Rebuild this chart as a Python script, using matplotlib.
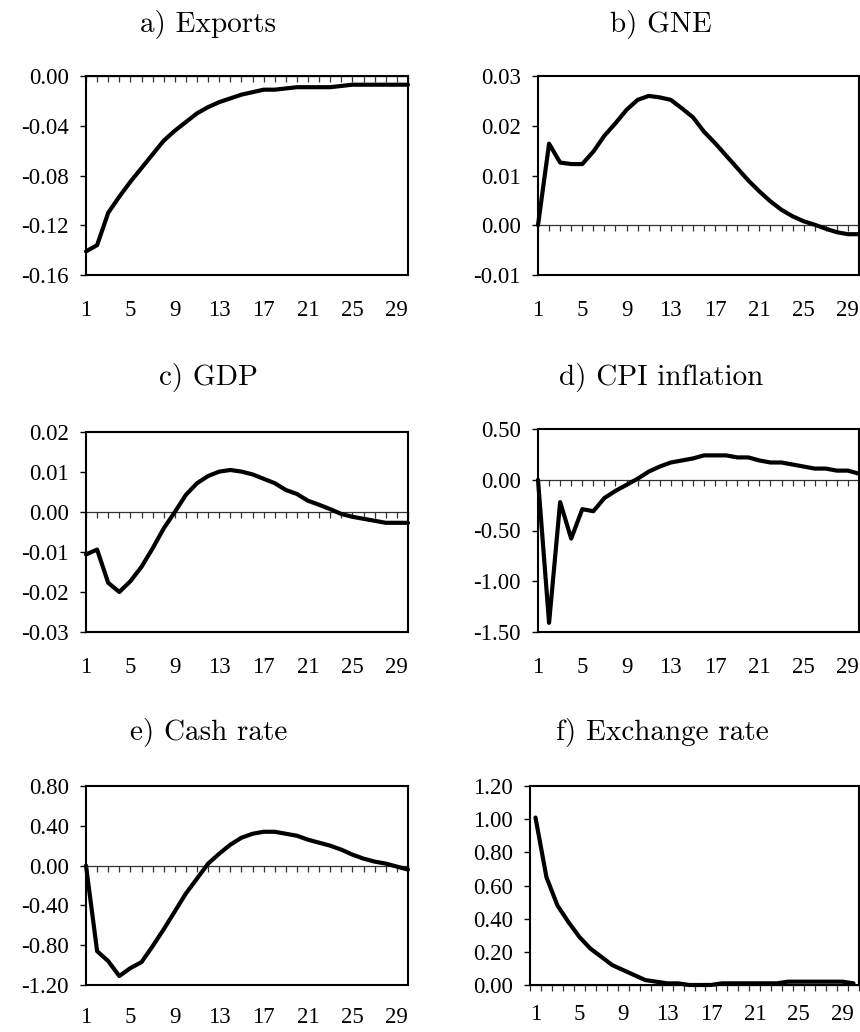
import matplotlib

matplotlib.use("Agg")
import matplotlib.pyplot as plt
from matplotlib.ticker import FormatStrFormatter

# impulse responses, periods 1..30
periods = list(range(1, 31))
xtick_labels = [1, 5, 9, 13, 17, 21, 25, 29]

exports = [-0.141, -0.136, -0.110, -0.097, -0.085, -0.074, -0.063, -0.052, -0.044, -0.037,
           -0.030, -0.025, -0.021, -0.018, -0.015, -0.013, -0.011, -0.011, -0.010, -0.009,
           -0.009, -0.009, -0.009, -0.008, -0.007, -0.007, -0.007, -0.007, -0.007, -0.007]
gne = [0.0000, 0.0164, 0.0126, 0.0123, 0.0123, 0.0148, 0.0180, 0.0205, 0.0232, 0.0252,
       0.0260, 0.0257, 0.0252, 0.0235, 0.0217, 0.0188, 0.0165, 0.0140, 0.0115, 0.0090,
       0.0068, 0.0048, 0.0031, 0.0018, 0.0008, 0.0001, -0.0007, -0.0014, -0.0018, -0.0018]
gdp = [-0.0106, -0.0094, -0.0177, -0.0200, -0.0173, -0.0137, -0.0091, -0.0041, 0.0000, 0.0043,
       0.0072, 0.0090, 0.0101, 0.0105, 0.0101, 0.0094, 0.0083, 0.0072, 0.0055, 0.0045,
       0.0028, 0.0018, 0.0007, -0.0005, -0.0012, -0.0017, -0.0022, -0.0027, -0.0027, -0.0027]
cpi = [0.00, -1.41, -0.22, -0.58, -0.29, -0.31, -0.18, -0.11, -0.05, 0.01,
       0.08, 0.13, 0.17, 0.19, 0.21, 0.24, 0.24, 0.24, 0.22, 0.22,
       0.19, 0.17, 0.17, 0.15, 0.13, 0.11, 0.11, 0.09, 0.09, 0.06]
cash = [0.00, -0.86, -0.96, -1.11, -1.03, -0.97, -0.81, -0.64, -0.46, -0.28,
        -0.13, 0.02, 0.12, 0.21, 0.28, 0.32, 0.34, 0.34, 0.32, 0.30,
        0.26, 0.23, 0.20, 0.16, 0.11, 0.07, 0.04, 0.02, -0.01, -0.04]
fx = [1.01, 0.65, 0.48, 0.38, 0.29, 0.22, 0.17, 0.12, 0.09, 0.06,
      0.03, 0.02, 0.01, 0.01, 0.00, 0.00, 0.00, 0.01, 0.01, 0.01,
      0.01, 0.01, 0.01, 0.02, 0.02, 0.02, 0.02, 0.02, 0.02, 0.01]

plt.rcParams["font.family"] = "Liberation Serif"
plt.rcParams["axes.unicode_minus"] = False

W, H = 860, 1032
TICK_FS = 16.5
TITLE_FS = 21


def add_panel(fig, box, title, title_pos, values, yticks, between=False, xpad=18):
    left, top, right, bottom = box
    ax = fig.add_axes([left / W, 1 - bottom / H, (right - left) / W, (bottom - top) / H])
    ax.plot(periods, values, color="black", lw=3.0, solid_joinstyle="round",
            solid_capstyle="round", zorder=3, clip_on=False)

    ymin, ymax = yticks[0], yticks[-1]
    ax.set_ylim(ymin, ymax)
    ax.set_yticks(yticks)
    ax.yaxis.set_major_formatter(FormatStrFormatter("%.2f"))
    if between:
        ax.set_xlim(0.5, 30.5)
        cat_ticks = [p - 0.5 for p in periods] + [30.5]
    else:
        ax.set_xlim(1, 30)
        cat_ticks = periods
    ax.set_xticks(xtick_labels)
    ax.tick_params(axis="x", length=0, pad=xpad, labelsize=TICK_FS)
    ax.tick_params(axis="y", direction="out", length=4.3, width=1.0, pad=8,
                   labelsize=TICK_FS)
    for sp in ax.spines.values():
        sp.set_linewidth(1.5)
        sp.set_color("black")

    # category axis crossing at zero, ticks hanging below it
    loc = (0 - ymin) / (ymax - ymin)
    sec = ax.secondary_xaxis(loc)
    sec.set_alignment("bottom")
    sec.set_xticks(cat_ticks)
    sec.tick_params(axis="x", direction="out", length=4.5, width=0.9, color="#333333",
                    labelbottom=False, labeltop=False)
    sec.spines["bottom"].set_linewidth(0.9)
    sec.spines["bottom"].set_color("#333333")

    fig.text(title_pos[0] / W, 1 - title_pos[1] / H, title, ha="center", va="baseline",
             fontfamily="cmr10", fontsize=TITLE_FS)
    return ax


fig = plt.figure(figsize=(W / 100, H / 100), dpi=100)

add_panel(fig, (86, 76, 408, 275), "a) Exports", (208, 32), exports,
          [-0.16, -0.12, -0.08, -0.04, 0.00])
add_panel(fig, (538, 76, 859, 275), "b) GNE", (661, 32), gne,
          [-0.01, 0.00, 0.01, 0.02, 0.03])
add_panel(fig, (86, 432, 408, 632), "c) GDP", (208, 385), gdp,
          [-0.03, -0.02, -0.01, 0.00, 0.01, 0.02])
add_panel(fig, (538, 429, 859, 632), "d) CPI inflation", (661, 385), cpi,
          [-1.50, -1.00, -0.50, 0.00, 0.50])
add_panel(fig, (86, 786, 408, 985), "e) Cash rate", (209, 740), cash,
          [-1.20, -0.80, -0.40, 0.00, 0.40, 0.80], xpad=16)
add_panel(fig, (530, 786, 859, 985), "f) Exchange rate", (662, 740), fx,
          [0.00, 0.20, 0.40, 0.60, 0.80, 1.00, 1.20], between=True, xpad=14)

fig.savefig("out.png", dpi=100)
plt.close(fig)
